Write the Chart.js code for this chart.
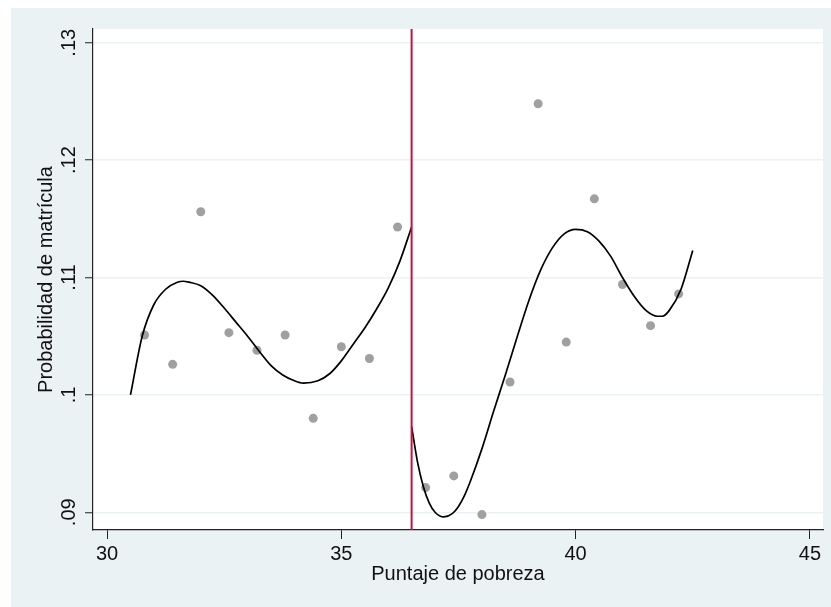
<!DOCTYPE html>
<html>
<head>
<meta charset="utf-8">
<script src="https://cdn.jsdelivr.net/npm/chart.js@4"></script>
<style>
  html, body { margin: 0; padding: 0; background: #fff; }
  #wrap { width: 831px; height: 607px; }
</style>
</head>
<body>
<div id="wrap"><canvas id="myChart" width="831" height="607"></canvas></div>
<script>
// binned means
const binX = [30.8, 31.4, 32.0, 32.6, 33.2, 33.8, 34.4, 35.0, 35.6, 36.2,
              36.8, 37.4, 38.0, 38.6, 39.2, 39.8, 40.4, 41.0, 41.6, 42.2];
const binY = [.1051, .1026, .1156, .1053, .1038, .1051, .0980, .1041, .1031, .1143,
              .0921, .0931, .0898, .1011, .1248, .1045, .1167, .1094, .1059, .1086];

// fitted curve, left of cutoff
const fitLeftX = [30.5, 30.75, 31.0, 31.25, 31.5, 31.63, 31.75, 32.0, 32.25, 32.5,
                  32.75, 33.0, 33.25, 33.5, 33.75, 34.0, 34.19, 34.5, 34.75, 35.0,
                  35.25, 35.5, 35.75, 36.0, 36.25, 36.5];
const fitLeftY = [.1000, .1050, .1077, .1090, .1096, .10968, .1096, .1093, .1085, .1074,
                  .1062, .1050, .1037, .1025, .1017, .1012, .1010, .1012, .1018, .1029,
                  .1043, .1057, .1073, .1091, .1114, .1143];

// fitted curve, right of cutoff
const fitRightX = [36.5, 36.625, 36.75, 36.875, 37.0, 37.19, 37.375, 37.5, 37.625, 37.75,
                   38.0, 38.25, 38.5, 38.75, 39.0, 39.25, 39.5, 39.75, 40.0, 40.25,
                   40.5, 40.75, 41.0, 41.25, 41.5, 41.75, 41.85, 42.0, 42.25, 42.5];
const fitRightY = [.0973, .0943, .0922, .0908, .0900, .0896, .0899, .0905, .0914, .0926,
                   .0954, .0986, .1017, .1049, .1080, .1106, .1125, .1137, .1141, .1139,
                   .1131, .1118, .1100, .1084, .1072, .1067, .1067, .1072, .1090, .1123];

const cutoff = 36.5;
const xTicks = [30, 35, 40, 45];
const yTicks = [.09, .10, .11, .12, .13];
const yTickLabels = ['.09', '.1', '.11', '.12', '.13'];
const xTitle = 'Puntaje de pobreza';
const yTitle = 'Probabilidad de matrícula';

const toPts = (xs, ys) => xs.map((x, i) => ({ x: x, y: ys[i] }));

const FONT = '"Liberation Sans", Arial, sans-serif';
const BG = '#eaf2f3';

const decor = {
  id: 'decor',
  beforeDraw(chart) {
    const c = chart.ctx, a = chart.chartArea;
    c.save();
    c.fillStyle = '#fff';
    c.fillRect(0, 0, chart.width, chart.height);
    c.fillStyle = BG;
    c.fillRect(11, 8, chart.width - 11, chart.height - 8);
    c.fillStyle = '#fff';
    c.fillRect(a.left, a.top, a.right - a.left, a.bottom - a.top);
    c.restore();
  },
  afterDatasetsDraw(chart) {
    const c = chart.ctx, a = chart.chartArea;
    const px = chart.scales.x.getPixelForValue(cutoff);
    c.save();
    c.strokeStyle = '#c2143e';
    c.lineWidth = 2;
    c.beginPath();
    c.moveTo(px, a.top);
    c.lineTo(px, a.bottom);
    c.stroke();
    c.restore();
  },
  afterDraw(chart) {
    const c = chart.ctx, a = chart.chartArea;
    const ys = chart.scales.y;
    c.save();
    c.fillStyle = '#111';
    c.font = '20px ' + FONT;
    c.textAlign = 'center';
    c.textBaseline = 'middle';
    yTicks.forEach((v, i) => {
      const py = ys.getPixelForValue(v);
      c.save();
      c.translate(69, py);
      c.rotate(-Math.PI / 2);
      c.fillText(yTickLabels[i], 0, 0);
      c.restore();
    });
    c.save();
    c.translate(46, (a.top + a.bottom) / 2);
    c.rotate(-Math.PI / 2);
    c.fillText(yTitle, 0, 0);
    c.restore();
    c.fillText(xTitle, (a.left + a.right) / 2, 574);
    c.restore();
  }
};

const config = {
  type: 'scatter',
  data: {
    datasets: [
      {
        label: 'fit left',
        data: toPts(fitLeftX, fitLeftY),
        showLine: true,
        borderColor: '#000',
        borderWidth: 1.7,
        pointRadius: 0,
        cubicInterpolationMode: 'monotone',
        order: 1
      },
      {
        label: 'fit right',
        data: toPts(fitRightX, fitRightY),
        showLine: true,
        borderColor: '#000',
        borderWidth: 1.7,
        pointRadius: 0,
        cubicInterpolationMode: 'monotone',
        order: 1
      },
      {
        label: 'bins',
        data: toPts(binX, binY),
        backgroundColor: '#a0a0a0',
        borderWidth: 0,
        pointRadius: 4.5,
        order: 2
      }
    ]
  },
  options: {
    responsive: false,
    animation: false,
    layout: { padding: { left: 0, top: 29, right: 8, bottom: 0 } },
    plugins: {
      legend: { display: false },
      tooltip: { enabled: false }
    },
    scales: {
      x: {
        type: 'linear',
        min: 29.7,
        max: 45.28,
        afterBuildTicks: s => { s.ticks = xTicks.map(v => ({ value: v })); },
        afterFit: s => { s.height = 77; },
        grid: { drawOnChartArea: false, drawTicks: true, tickLength: 9, tickColor: '#222', tickWidth: 1 },
        border: { color: '#222', width: 1.2 },
        ticks: { color: '#111', font: { family: FONT, size: 20 }, padding: 3, maxRotation: 0 }
      },
      y: {
        type: 'linear',
        min: 0.08849,
        max: 0.13117,
        afterBuildTicks: s => { s.ticks = yTicks.map(v => ({ value: v })); },
        afterFit: s => { s.width = 93; },
        grid: { color: BG, lineWidth: 1.5, drawTicks: true, tickLength: 8, tickColor: '#222', tickWidth: 1 },
        border: { color: '#222', width: 1.2 },
        ticks: { display: false }
      }
    }
  },
  plugins: [decor]
};

const myChart = new Chart(document.getElementById('myChart'), config);
</script>
</body>
</html>
